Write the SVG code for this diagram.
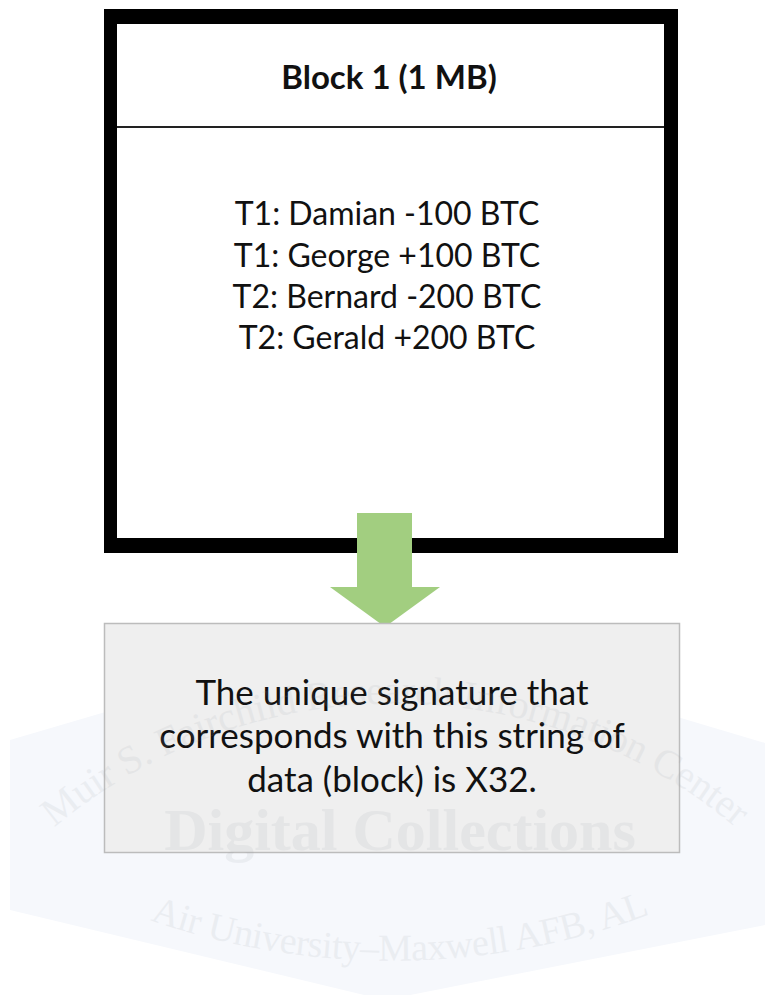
<svg xmlns="http://www.w3.org/2000/svg" width="768" height="995" viewBox="0 0 768 995">
<style>
.t{font-family:Lato,"Open Sans","Liberation Sans",sans-serif;fill:#111;text-anchor:middle}
.wm{font-family:"Liberation Serif","DejaVu Serif",serif;fill:#9aa0a8}
</style>
<defs>
<path id="arcTop" d="M 40 840 A 530 530 0 0 1 750 840"/>
<path id="arcBot" d="M 110 905 A 740 740 0 0 0 690 898"/>
</defs>
<rect width="768" height="995" fill="#ffffff"/>
<polygon points="10,740 385,630 765,743 765,925 385,1000 10,910" fill="#f6f8fc"/>
<g id="connectors">
<polygon points="357,513 412,513 412,587 440,587 385,627 330,587 357,587" fill="#a2ce80"/>
</g>
<g id="block1">
<rect x="104" y="9" width="574" height="15" fill="#000"/>
<rect x="104" y="9" width="13" height="544" fill="#000"/>
<rect x="664" y="9" width="14" height="544" fill="#000"/>
<rect x="104" y="538" width="253" height="15" fill="#000"/>
<rect x="412" y="538" width="266" height="15" fill="#000"/>
<line x1="117" y1="127" x2="664" y2="127" stroke="#222" stroke-width="2"/>
<text class="t" x="389" y="89" font-size="33" font-weight="bold">Block 1 (1 MB)</text>
<text class="t" x="387" y="225" font-size="32">T1: Damian -100 BTC</text>
<text class="t" x="387" y="267" font-size="32">T1: George +100 BTC</text>
<text class="t" x="387" y="308" font-size="32">T2: Bernard -200 BTC</text>
<text class="t" x="387" y="349" font-size="32">T2: Gerald +200 BTC</text>
</g>
<g id="signature">
<rect x="104.5" y="623.5" width="575" height="229" fill="#efefef" stroke="#bcbcbc" stroke-width="1.5"/>
<text class="t" x="392" y="705" font-size="35">The unique signature that</text>
<text class="t" x="392" y="748" font-size="35">corresponds with this string of</text>
<text class="t" x="392" y="792" font-size="35">data (block) is X32.</text>
</g>
<g id="watermark" opacity="0.12">
<text class="wm" font-size="40"><textPath href="#arcTop" startOffset="50%" text-anchor="middle" textLength="740">Muir S. Fairchild Research Information Center</textPath></text>
<text class="wm" x="400" y="850" font-size="60" font-weight="bold" text-anchor="middle">Digital Collections</text>
<text class="wm" font-size="38"><textPath href="#arcBot" startOffset="50%" text-anchor="middle" textLength="510">Air University–Maxwell AFB, AL</textPath></text>
</g>
</svg>
